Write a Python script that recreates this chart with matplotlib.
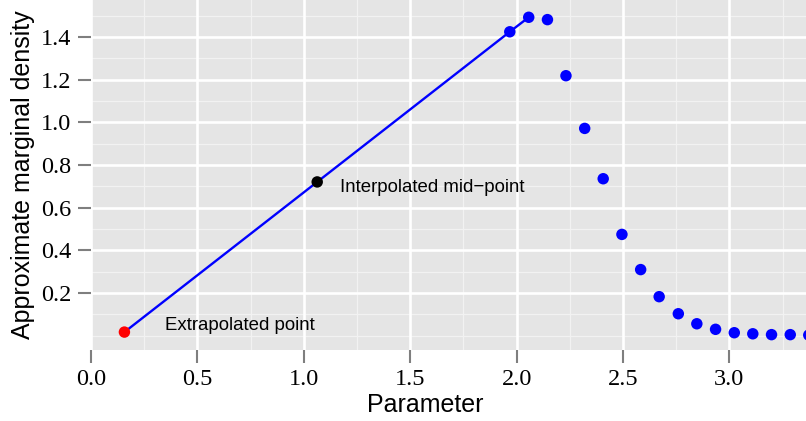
import matplotlib
matplotlib.use("Agg")
import matplotlib.pyplot as plt
from matplotlib.ticker import FixedLocator

# Grid of evaluated parameter values and their approximate marginal density
param = [1.968, 2.057, 2.145, 2.232, 2.320, 2.407, 2.495, 2.583, 2.670,
         2.760, 2.847, 2.935, 3.023, 3.110, 3.198, 3.286, 3.373]
density = [1.425, 1.493, 1.482, 1.219, 0.972, 0.736, 0.475, 0.310, 0.183,
           0.103, 0.056, 0.030, 0.014, 0.009, 0.005, 0.005, 0.003]

# Extrapolated end point and interpolated mid-point
extrap_x, extrap_y = 0.157, 0.017
mid_x, mid_y = 1.063, 0.721

x_ticks = [0.0, 0.5, 1.0, 1.5, 2.0, 2.5, 3.0]
x_tick_labels = ["0.0", "0.5", "1.0", "1.5", "2.0", "2.5", "3.0"]
y_ticks = [0.2, 0.4, 0.6, 0.8, 1.0, 1.2, 1.4]
y_tick_labels = ["0.2", "0.4", "0.6", "0.8", "1.0", "1.2", "1.4"]
x_minor = [0.25, 0.75, 1.25, 1.75, 2.25, 2.75, 3.25]
y_minor = [0.0, 0.1, 0.3, 0.5, 0.7, 0.9, 1.1, 1.3, 1.5]

W, H = 806, 421
fig = plt.figure(figsize=(W / 100, H / 100), dpi=100)
ax = fig.add_axes([91 / W, (H - 350) / H, 1 - 91 / W, 350 / H])
ax.set_facecolor("#E5E5E5")
for s in ax.spines.values():
    s.set_visible(False)

ax.set_xlim(0, 3.36)
ax.set_ylim(-0.067, 1.574)

# Grid lines
for xv in x_minor:
    ax.axvline(xv, color="#F2F2F2", lw=0.9, zorder=0.5)
for yv in y_minor:
    ax.axhline(yv, color="#F2F2F2", lw=0.9, zorder=0.5)
for xv in x_ticks:
    ax.axvline(xv, color="white", lw=1.9, zorder=0.6)
for yv in y_ticks:
    ax.axhline(yv, color="white", lw=1.9, zorder=0.6)

# Straight line from the extrapolated point through the first two grid points
line_x = [extrap_x, mid_x, param[0], param[1]]
line_y = [extrap_y, mid_y, density[0], density[1]]
ax.plot(line_x, line_y, color="blue", lw=1.7, zorder=2)

ax.scatter(param, density, s=68, color="blue", edgecolors="none", zorder=3)
ax.scatter([mid_x], [mid_y], s=68, color="black", edgecolors="none", zorder=3)
ax.scatter([extrap_x], [extrap_y], s=68, color="red", edgecolors="none", zorder=3)

ax.text(1.171, mid_y - 0.025, "Interpolated mid\u2212point", fontsize=13.4,
        family="Liberation Sans", va="center", ha="left", zorder=4)
ax.text(0.35, extrap_y + 0.03, "Extrapolated point", fontsize=13.4,
        family="Liberation Sans", va="center", ha="left", zorder=4)

ax.xaxis.set_major_locator(FixedLocator(x_ticks))
ax.yaxis.set_major_locator(FixedLocator(y_ticks))
ax.set_xticklabels(x_tick_labels, family="Liberation Serif", fontsize=17.5)
ax.set_yticklabels(y_tick_labels, family="Liberation Serif", fontsize=17.5)
ax.tick_params(axis="both", length=9.5, width=1.5, color="#7F7F7F",
               pad=4.5, labelcolor="black")

ax.set_ylabel("Approximate marginal density", family="Liberation Sans",
              fontsize=18, labelpad=4)
fig.text(425 / W, 1 - 405 / H, "Parameter", family="Liberation Sans",
         fontsize=18, ha="center", va="center")

fig.savefig("out.png", dpi=100)
